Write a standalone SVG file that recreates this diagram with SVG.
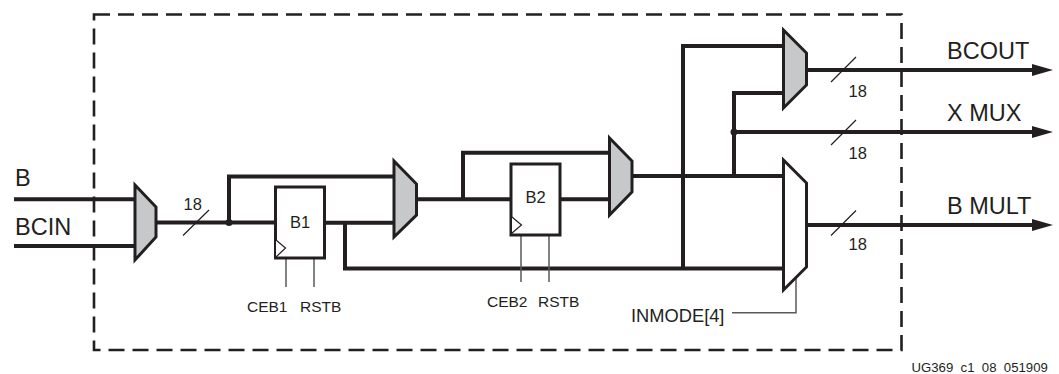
<svg xmlns="http://www.w3.org/2000/svg" width="1059" height="374" viewBox="0 0 1059 374">
<style>
text{font-family:"Liberation Sans",Arial,sans-serif;fill:#231f20;white-space:pre}
.l{font-size:23.5px}.n{font-size:16.5px}.s{font-size:15.5px}
.w{fill:none;stroke:#231f20;stroke-width:4}
.thin{fill:none;stroke:#231f20;stroke-width:1.2}
.ctl{fill:none;stroke:#58595b;stroke-width:1.5}
.mux{fill:#c7c8ca;stroke:#231f20;stroke-width:3}
.muxw{fill:#fff;stroke:#231f20;stroke-width:3}
.reg{fill:#fff;stroke:#231f20;stroke-width:3}
.ck{fill:#fff;stroke:#231f20;stroke-width:1.2}
.dot{fill:#231f20}
</style>
<defs><marker id="a" markerUnits="userSpaceOnUse" markerWidth="22" markerHeight="12" refX="0" refY="6" orient="auto" overflow="visible"><path d="M0 0L21 6L0 12Z" fill="#231f20"/></marker></defs>
<rect id="boundary" x="94" y="14.5" width="807.5" height="335.5" fill="none" stroke="#231f20" stroke-width="2.6" stroke-dasharray="16 8"/>
<g id="connectors">
<path class="w" d="M14 199.3H135M14 246H135M156 222.5H276M229 222.5V176.5H394M324 222.7H394M345 222.7V268.5H783M416 199.3H511M463 199.3V152.7H610M560 199.3H610M632 176H783M683 269V46H783M734 176V93H783"/>
<path class="w" d="M806 70H1032" marker-end="url(#a)"/>
<path class="w" d="M734 132H1032" marker-end="url(#a)"/>
<path class="w" d="M806 225H1032" marker-end="url(#a)"/>
<path class="thin" d="M183 235.5L209 210M831 82L856 57M831 145L856 120M831 235.5L856 210.5"/>
<path class="ctl" d="M286 258V287M314 258V287M521 235V282M549 235V282M732 312.7H796V278"/>
<circle class="dot" cx="229" cy="222.5" r="3.5"/>
<circle class="dot" cx="734" cy="132" r="3.5"/>
</g>
<g id="mux1"><path class="mux" d="M135 185L156 207V237L135 260Z"/></g>
<g id="mux2"><path class="mux" d="M394 161L416.5 184V215L394 237Z"/></g>
<g id="mux3"><path class="mux" d="M609.5 138L632 161V192L609.5 215Z"/></g>
<g id="mux4"><path class="mux" d="M783.500 30L806.500 53V85L783.500 108Z"/></g>
<g id="mux5"><path class="muxw" d="M783.500 160L806.500 183V267L783.500 290Z"/></g>
<g id="b1"><rect class="reg" x="275.500" y="187" width="49" height="71"/><path class="ck" d="M276 240L285.500 248L276 257"/><text class="n" x="290" y="228">B1</text></g>
<g id="b2"><rect class="reg" x="511" y="164" width="49" height="71"/><path class="ck" d="M512 217L521.500 225L512 233"/><text class="n" x="525.500" y="203">B2</text></g>
<g id="labels">
<text class="l" x="15" y="186">B</text>
<text class="l" x="15" y="235">BCIN</text>
<text class="l" x="947" y="59">BCOUT</text>
<text class="l" x="947" y="121">X MUX</text>
<text class="l" x="947" y="214">B MULT</text>
<text class="n" x="183.500" y="210">18</text>
<text class="n" x="848.500" y="97">18</text>
<text class="n" x="848.500" y="159">18</text>
<text class="n" x="848.500" y="250">18</text>
<text class="s" x="247" y="312">CEB1</text>
<text class="s" x="300" y="312">RSTB</text>
<text class="s" x="487" y="307">CEB2</text>
<text class="s" x="538" y="307">RSTB</text>
<text style="font-size:18.300px" x="631" y="321.500">INMODE[4]</text>
<text style="font-size:13.200px" x="911.500" y="372">UG369  c1  08  051909</text>
</g>
</svg>
